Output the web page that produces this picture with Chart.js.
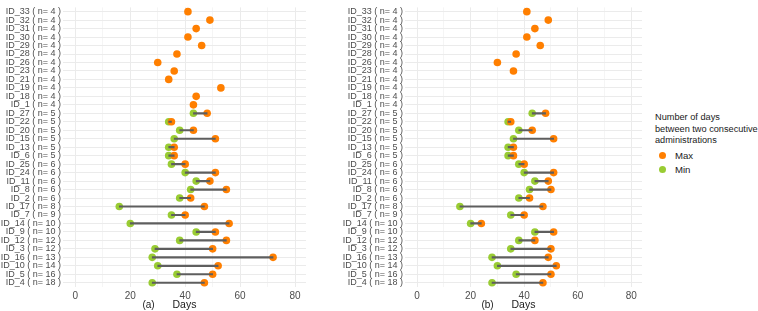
<!DOCTYPE html>
<html>
<head>
<meta charset="utf-8">
<script src="https://cdn.jsdelivr.net/npm/chart.js@4"></script>
<style>
  body { margin: 0; background: #fff; font-family: "Liberation Sans", Arial, sans-serif; }
  #wrap { position: relative; width: 758px; height: 311px; overflow: hidden; }
  .panel { position: absolute; top: 0; height: 311px; }
  #legend { position: absolute; left: 655px; top: 112px; font-size: 9.2px; color: #1a1a1a; line-height: 11.5px; white-space: nowrap; }
  #legend .item { display: flex; align-items: center; height: 14px; font-size: 9.6px; }
  #legend .dot { width: 7px; height: 7px; border-radius: 50%; margin: 0 9px 0 4px; }
</style>
</head>
<body>
<div id="wrap">
  <div class="panel" style="left:0; width:310px;"><canvas id="chartA"></canvas></div>
  <div class="panel" style="left:342px; width:304px;"><canvas id="chartB"></canvas></div>
  <div id="legend">
    <div>Number of days<br>between two consecutive<br>administrations</div>
    <div class="item" style="margin-top:2px"><span class="dot" style="background:#FF7F00"></span>Max</div>
    <div class="item"><span class="dot" style="background:#99CC33"></span>Min</div>
  </div>
</div>
<script>
// patients, top to bottom
const ids = ["ID_33", "ID_32", "ID_31", "ID_30", "ID_29", "ID_28", "ID_26", "ID_23", "ID_21", "ID_19", "ID_18", "ID_1",
  "ID_27", "ID_22", "ID_20", "ID_15", "ID_13", "ID_6", "ID_25", "ID_24", "ID_11", "ID_8", "ID_2", "ID_17", "ID_7",
  "ID_14", "ID_9", "ID_12", "ID_3", "ID_16", "ID_10", "ID_5", "ID_4"];
const counts = [4, 4, 4, 4, 4, 4, 4, 4, 4, 4, 4, 4, 5, 5, 5, 5, 5, 5, 6, 6, 6, 6, 6, 8, 9, 10, 10, 12, 12, 13, 14, 16, 18];

// panel (a)
const maxA = [41, 49, 44, 41, 46, 37, 30, 36, 34, 53, 44, 43,
  48, 35, 43, 51, 36, 36, 40, 51, 49, 55, 42, 47, 40, 56, 51, 55, 50, 72, 52, 50, 47];
const minA = [null, null, null, null, null, null, null, null, null, null, null, null,
  43, 34, 38, 36, 34, 34, 35, 40, 44, 42, 38, 16, 35, 20, 44, 38, 29, 28, 30, 37, 28];

// panel (b)
const maxB = [41, 49, 44, 41, 46, 37, 30, 36, null, null, null, null,
  48, 35, 43, 51, 36, 36, 40, 51, 49, 50, 42, 47, 40, 24, 51, 44, 50, 49, 52, 50, 47];
const minB = [null, null, null, null, null, null, null, null, null, null, null, null,
  43, 34, 38, 36, 34, 34, 38, 40, 44, 42, 38, 16, 35, 20, 44, 38, 35, 28, 30, 37, 28];

const xTicks = [0, 20, 40, 60, 80];

const labels = ids.map((id, i) => `${id} ( n= ${counts[i]} )`);
const textColor = "#4d4d4d";
const gridColor = "#ebebeb";

function panelLabel(text) {
  return {
    id: "panelLabel",
    afterDraw(chart) {
      const { ctx, chartArea } = chart;
      const mid = (chartArea.left + chartArea.right) / 2;
      ctx.save();
      ctx.font = "10px 'Liberation Sans', Arial, sans-serif";
      ctx.fillStyle = "#1a1a1a";
      ctx.textAlign = "center";
      ctx.textBaseline = "middle";
      ctx.fillText(text, mid - 36, 305);
      ctx.restore();
    },
  };
}

function makeChart(canvasId, minVals, maxVals, tag) {
  const segs = minVals.map((m, i) => (m == null || maxVals[i] == null ? null : [m, maxVals[i]]));
  return new Chart(document.getElementById(canvasId), {
    type: "bar",
    data: {
      labels,
      datasets: [
        {
          label: "range",
          data: segs,
          backgroundColor: "#5e5e5e",
          barThickness: 1.5,
          order: 0,
        },
        {
          type: "line",
          label: "Max",
          data: maxVals,
          showLine: false,
          pointRadius: 3.8,
          pointBorderWidth: 0,
          pointBackgroundColor: "#FF7F00",
          order: 1,
        },
        {
          type: "line",
          label: "Min",
          data: minVals,
          showLine: false,
          pointRadius: 3.8,
          pointBorderWidth: 0,
          pointBackgroundColor: "#99CC33",
          order: 2,
        },
      ],
    },
    options: {
      indexAxis: "y",
      responsive: true,
      maintainAspectRatio: false,
      animation: false,
      layout: { padding: { top: 0, right: 4, left: 0, bottom: 0 } },
      plugins: { legend: { display: false }, tooltip: { enabled: false } },
      scales: {
        x: {
          type: "linear",
          min: -4.5,
          max: 84,
          border: { display: false },
          grid: {
            color: gridColor,
            drawTicks: false,
            lineWidth: (c) => (xTicks.includes(c.tick.value) ? 1 : 0.5),
          },
          ticks: {
            stepSize: 10,
            includeBounds: false,
            padding: 3,
            color: textColor,
            font: { size: 10, family: "'Liberation Sans', Arial, sans-serif" },
            callback: (v) => (xTicks.includes(v) ? v : ""),
          },
          title: {
            display: true,
            text: "Days",
            color: "#1a1a1a",
            padding: 0,
            font: { size: 10.5, family: "'Liberation Sans', Arial, sans-serif" },
          },
          afterFit: (s) => { s.height = 24; },
        },
        y: {
          type: "category",
          offset: true,
          border: { display: false },
          grid: { color: gridColor, offset: false, drawTicks: false },
          ticks: {
            padding: 2,
            autoSkip: false,
            color: textColor,
            font: { size: 9, family: "'Liberation Sans', Arial, sans-serif" },
          },
          afterFit: (s) => { s.width = 63; },
        },
      },
    },
    plugins: [panelLabel(tag)],
  });
}

makeChart("chartA", minA, maxA, "(a)");
makeChart("chartB", minB, maxB, "(b)");
</script>
</body>
</html>
